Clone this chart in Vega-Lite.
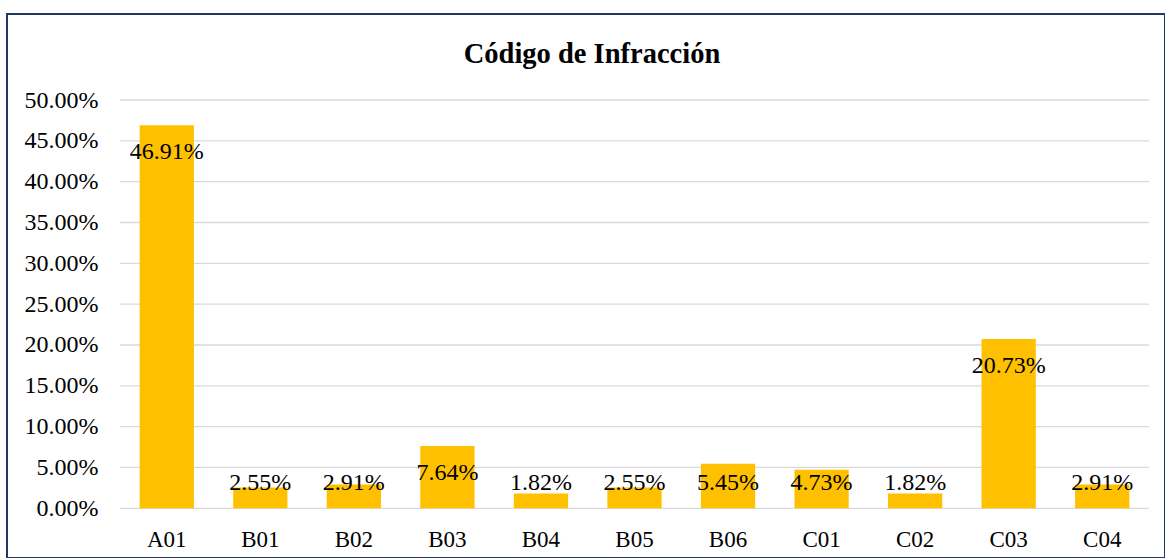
{
  "$schema": "https://vega.github.io/schema/vega-lite/v6.json",
  "width": 1158,
  "height": 544,
  "autosize": {"type": "none"},
  "padding": {"left": 7, "top": 14, "right": 0, "bottom": 0},
  "background": "white",
  "title": {
    "text": "Código de Infracción",
    "font": "Liberation Serif",
    "fontSize": 28.5,
    "fontWeight": "bold",
    "color": "black",
    "anchor": "middle",
    "frame": "group",
    "dx": 6,
    "baseline": "alphabetic",
    "offset": -77
  },
  "config": {
    "view": {"stroke": "#203864", "strokeWidth": 2},
    "axis": {
      "labelFont": "Liberation Serif",
      "labelColor": "black",
      "titleFont": "Liberation Serif"
    }
  },
  "datasets": {
    "codes": [
      {"code": "A01", "value": 0.4691},
      {"code": "B01", "value": 0.0255},
      {"code": "B02", "value": 0.0291},
      {"code": "B03", "value": 0.0764},
      {"code": "B04", "value": 0.0182},
      {"code": "B05", "value": 0.0255},
      {"code": "B06", "value": 0.0545},
      {"code": "C01", "value": 0.0473},
      {"code": "C02", "value": 0.0182},
      {"code": "C03", "value": 0.2073},
      {"code": "C04", "value": 0.0291}
    ],
    "ticks": [
      {"t": 0}, {"t": 0.05}, {"t": 0.1}, {"t": 0.15}, {"t": 0.2}, {"t": 0.25},
      {"t": 0.3}, {"t": 0.35}, {"t": 0.4}, {"t": 0.45}, {"t": 0.5}
    ]
  },
  "resolve": {"scale": {"x": "independent"}, "axis": {"x": "independent"}},
  "layer": [
    {
      "data": {"name": "ticks"},
      "mark": {"type": "rule", "color": "#D9D9D9", "strokeWidth": 1.3},
      "encoding": {
        "x": {"datum": 0, "type": "quantitative", "scale": {"domain": [0, 1], "range": [113, 1142]}, "axis": null},
        "x2": {"datum": 1},
        "y": {
          "field": "t",
          "type": "quantitative",
          "scale": {"domain": [0, 0.5], "nice": false, "range": [494.3, 86]},
          "axis": {
            "title": null,
            "format": ".2%",
            "values": [0, 0.05, 0.1, 0.15, 0.2, 0.25, 0.3, 0.35, 0.4, 0.45, 0.5],
            "ticks": false,
            "domain": false,
            "grid": false,
            "labelFontSize": 24,
            "labelPadding": 0,
            "offset": -91,
            "labelOverlap": false,
            "labelBound": false,
            "labelFlush": false
          }
        }
      }
    },
    {
      "data": {"name": "codes"},
      "encoding": {
        "x": {
          "field": "code",
          "type": "nominal",
          "sort": null,
          "scale": {"paddingInner": 0.42, "paddingOuter": 0.21, "range": [113, 1142]},
          "axis": {
            "title": null,
            "labelAngle": 0,
            "ticks": false,
            "domain": false,
            "grid": false,
            "labelFontSize": 23,
            "labelPadding": 0,
            "offset": -30,
            "labelOverlap": false
          }
        }
      },
      "layer": [
        {
          "mark": {"type": "bar", "color": "#FFC000"},
          "encoding": {
            "y": {"field": "value", "type": "quantitative"}
          }
        },
        {
          "transform": [{"filter": "datum.value >= 0.06"}],
          "mark": {
            "type": "text",
            "font": "Liberation Serif",
            "fontSize": 24,
            "color": "black",
            "baseline": "middle",
            "dy": 27
          },
          "encoding": {
            "y": {"field": "value", "type": "quantitative"},
            "text": {"field": "value", "type": "quantitative", "format": ".2%"}
          }
        },
        {
          "transform": [{"filter": "datum.value < 0.06"}],
          "mark": {
            "type": "text",
            "font": "Liberation Serif",
            "fontSize": 24,
            "color": "black",
            "baseline": "middle",
            "dy": -25
          },
          "encoding": {
            "y": {"datum": 0, "type": "quantitative"},
            "text": {"field": "value", "type": "quantitative", "format": ".2%"}
          }
        }
      ]
    }
  ]
}
